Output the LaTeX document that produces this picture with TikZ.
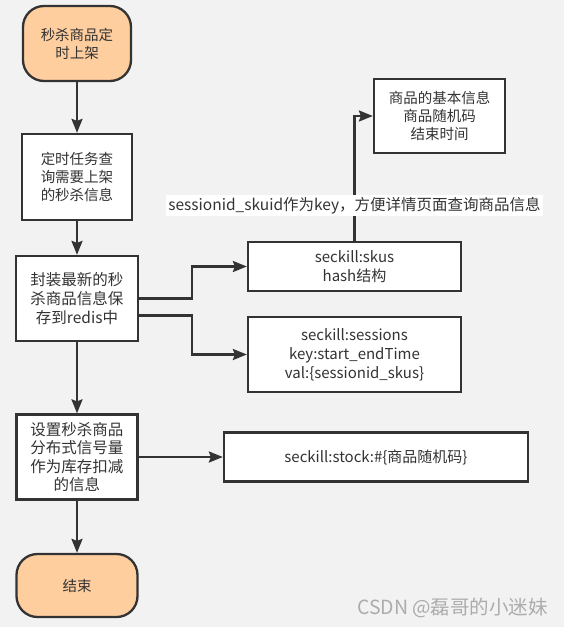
\documentclass[tikz,border=0pt]{standalone}
\usepackage{fontspec}
\newfontfamily\cjk{Noto Sans CJK SC}
\usepackage{tikz}
\usetikzlibrary{arrows.meta}
\definecolor{linegray}{HTML}{333333}
\definecolor{termfill}{HTML}{FFCE9F}
\definecolor{backgray}{HTML}{F2F2F2}

\begin{document}
\begin{tikzpicture}[x=1pt,y=-1pt,>={Stealth[length=14pt,width=11pt,inset=2pt]},
	every node/.style={text=linegray,align=center,inner sep=0pt,font=\cjk\fontsize{14.5}{18}\selectfont},
	box/.style={draw=linegray,line width=2.3pt,fill=white},
	term/.style={box,fill=termfill,rounded corners=21pt},
	conn/.style={->,draw=linegray,line width=2.3pt}
	]
	\fill[backgray] (0,0) rectangle (564,627);
	\useasboundingbox (0,0) rectangle (564,627);
	% main column
	\node[term,minimum width=108pt,minimum height=75pt] (start) at (77,43.5) {秒杀商品定\\时上架};
	\node[box,minimum width=110pt,minimum height=86pt] (query) at (77,177) {定时任务查\\询需要上架\\的秒杀信息};
	\node[box,minimum width=122pt,minimum height=85pt,font=\cjk\fontsize{15.5}{19}\selectfont] (pack) at (77,298.5) {封装最新的秒\\杀商品信息保\\存到redis中};
	\node[box,minimum width=121pt,minimum height=85pt,font=\cjk\fontsize{15.5}{18.3}\selectfont] (sema) at (77,457) {设置秒杀商品\\分布式信号量\\作为库存扣减\\的信息};
	\node[term,minimum width=121pt,minimum height=63pt] (stop) at (77,585.5) {结束};
	% redis keys
	\node[box,minimum width=131pt,minimum height=74pt] (info) at (439.5,116) {商品的基本信息\\商品随机码\\结束时间};
	\node[box,minimum width=213pt,minimum height=49pt,font=\cjk\fontsize{15}{19}\selectfont] (skus) at (354.5,266.5) {seckill:skus\\hash结构};
	\node[box,minimum width=213pt,minimum height=75pt,font=\cjk\fontsize{15}{19}\selectfont] (sessions) at (354.5,354.5) {seckill:sessions\\key:start\_endTime\\val:\{sessionid\_skus\}};
	\node[box,minimum width=304pt,minimum height=49pt,font=\cjk\fontsize{15}{19}\selectfont] (stock) at (376,457) {seckill:stock:\#\{商品随机码\}};
	\node[text=gray!65,font=\cjk\fontsize{19.5}{22}\selectfont] (mark) at (452.5,608) {CSDN @磊哥的小迷妹};

	\draw[conn] (start) -- (query);
	\draw[conn] (query) -- (pack);
	\draw[conn] (pack) -- (sema);
	\draw[conn] (sema) -- (stop);
	\draw[conn] (pack.east) -- ++(53,0) |- (skus.west);
	\draw[conn] ([yshift=-17pt]pack.east) -- ++(53,0) |- (sessions.west);
	\draw[conn] (sema.east) -- (stock.west);
	\draw[conn] (skus.north) |- (info.west)
		node[pos=0.14,fill=white,inner sep=2pt,font=\cjk\fontsize{15.5}{19}\selectfont] (keylabel) {sessionid\_skuid作为key，方便详情页面查询商品信息};
\end{tikzpicture}
\end{document}
